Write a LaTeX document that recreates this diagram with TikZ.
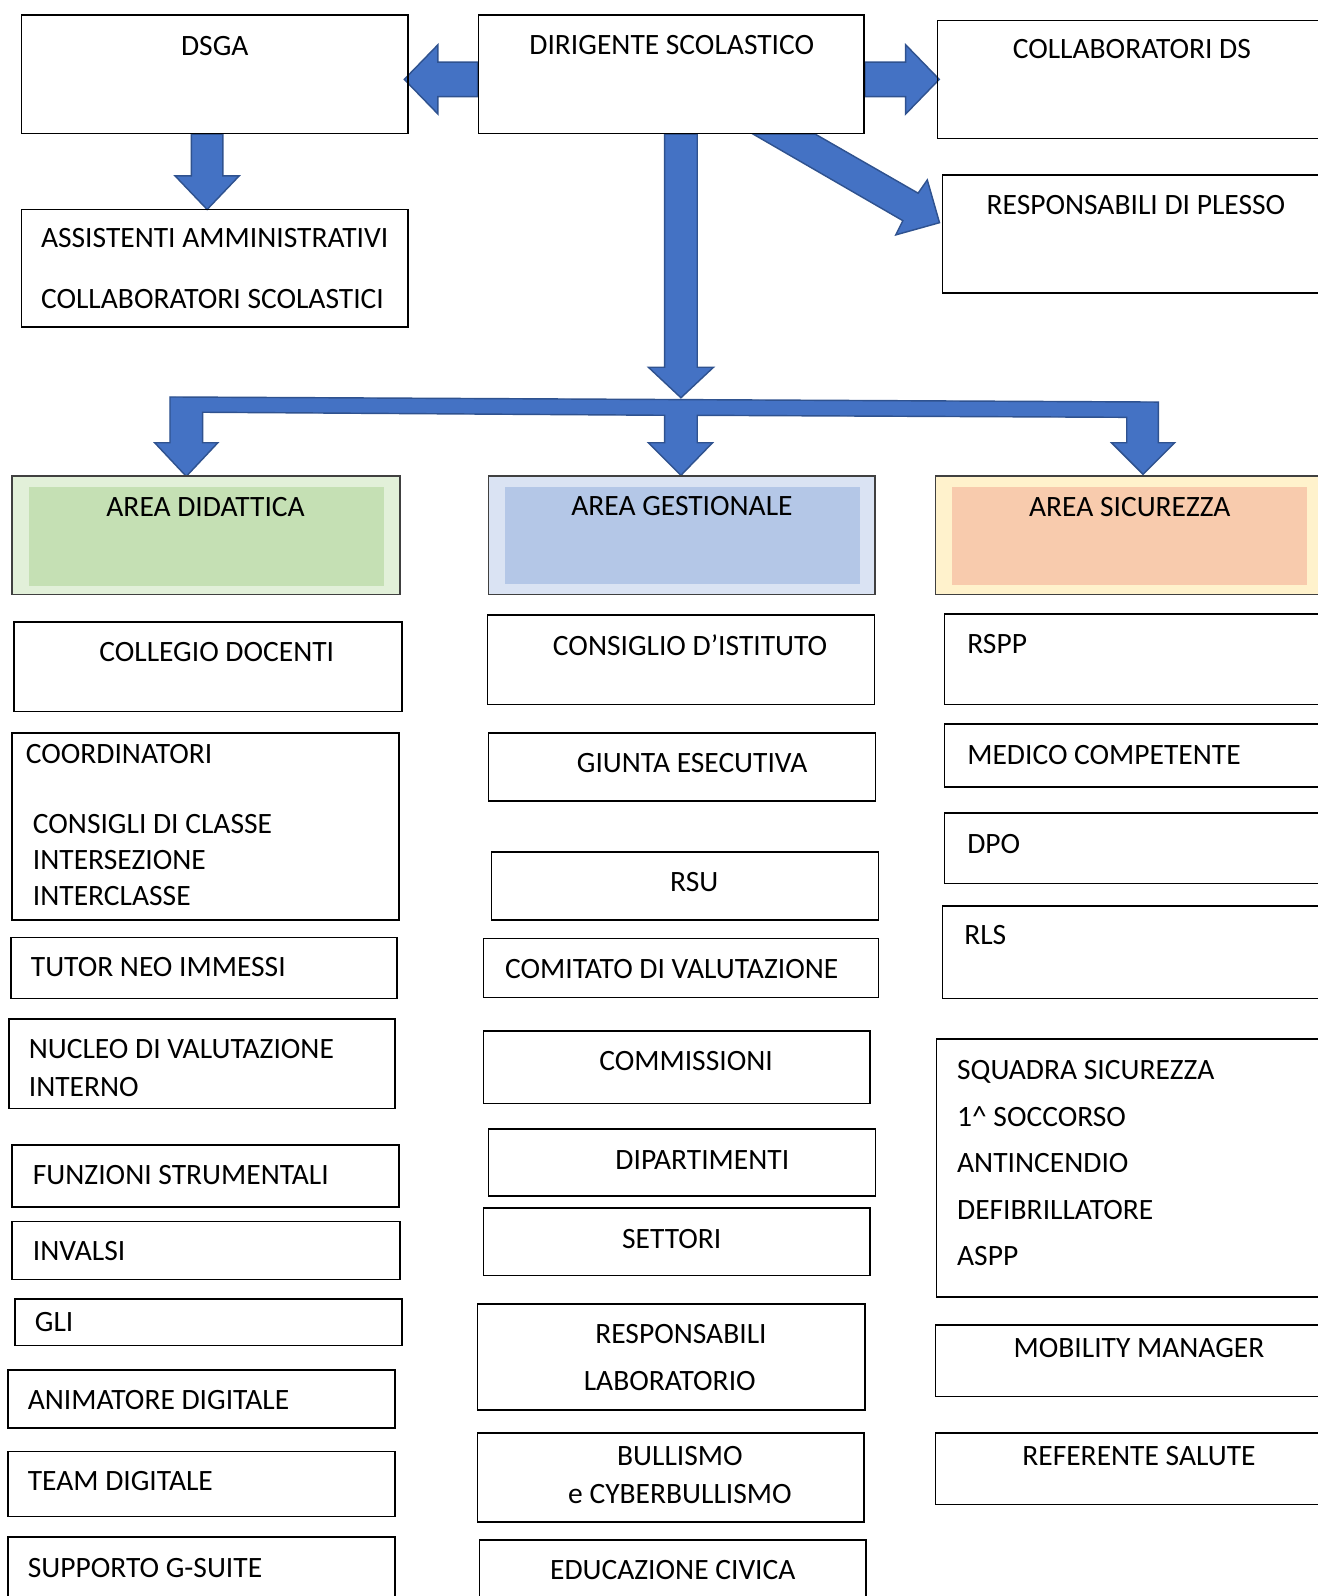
\documentclass[tikz,border=0pt]{standalone}
\usepackage{fontspec}
\setmainfont{Carlito}
\usetikzlibrary{fit,calc,backgrounds}

\definecolor{arrowblue}{HTML}{4472C4}
\definecolor{arrowedge}{HTML}{2F528F}
\definecolor{didout}{HTML}{E2F0D9}
\definecolor{didin}{HTML}{C5E0B4}
\definecolor{gesout}{HTML}{DAE3F3}
\definecolor{gesin}{HTML}{B4C7E7}
\definecolor{sicout}{HTML}{FFF2CC}
\definecolor{sicin}{HTML}{F8CBAD}

\newcommand\boxfont{\fontsize{16.5}{19}\selectfont}

\begin{document}
\begin{tikzpicture}[x=0.02cm, y=-0.02cm,
  box/.style={draw, line width=0.9pt, inner sep=0pt},
  area/.style={draw=black!75, line width=1pt, inner sep=0pt},
  tc/.style={anchor=base, inner sep=0pt, yshift=1.3pt, font=\boxfont},
  tl/.style={anchor=base west, inner sep=0pt, yshift=1.3pt, font=\boxfont},
  barrow/.style={fill=arrowblue, draw=arrowedge, line width=0.8pt, line join=miter}]

  \useasboundingbox (0,0) rectangle (1294,1568);

  % vertice
  \node[box, fit={(21,15) (401,131)}] (dsga) {};
  \node[box, fit={(470,15) (849,131)}] (ds) {};
  \node[box, fit={(921,20) (1310,136)}] (collab) {};
  \node[box, fit={(926,172) (1310,288)}] (plesso) {};
  \node[box, fit={(21,206) (401,321)}] (ata) {};
  \node[tc] (dsga-t) at (211,57) {DSGA};
  \node[tc] (ds-t) at (660,56) {DIRIGENTE SCOLASTICO};
  \node[tc] (collab-t) at (1112,60) {COLLABORATORI DS};
  \node[tc] (plesso-t) at (1116,213) {RESPONSABILI DI PLESSO};
  \node[tl] (ata-t1) at (40,245) {ASSISTENTI AMMINISTRATIVI};
  \node[tl] (ata-t2) at (40,305) {COLLABORATORI SCOLASTICI};

  % aree
  \node[area, fill=didout, fit={(12,468) (393,584)}] (did) {};
  \fill[didin] (28,478) rectangle (377,576);
  \node[tc] (did-t) at (202,510) {AREA DIDATTICA};
  \node[area, fill=gesout, fit={(480,468) (860,584)}] (ges) {};
  \fill[gesin] (496,478) rectangle (845,574);
  \node[tc] (ges-t) at (670,509) {AREA GESTIONALE};
  \node[area, fill=sicout, fit={(919,468) (1310,584)}] (sic) {};
  \fill[sicin] (935,478) rectangle (1284,575);
  \node[tc] (sic-t) at (1110,510) {AREA SICUREZZA};

  % area didattica
  \node[box, fit={(14,611) (395,699)}] (collegio) {};
  \node[tc] (collegio-t) at (213,652) {COLLEGIO DOCENTI};
  \node[box, fit={(12,720) (392,904)}] (coord) {};
  \node[tl] (coord-t1) at (25,752) {COORDINATORI};
  \node[tl] (coord-t2) at (32,821) {CONSIGLI DI CLASSE};
  \node[tl] (coord-t3) at (32,857) {INTERSEZIONE};
  \node[tl] (coord-t4) at (32,892) {INTERCLASSE};
  \node[box, fit={(11,921) (390,981)}] (tutor) {};
  \node[tl] (tutor-t) at (30,962) {TUTOR NEO IMMESSI};
  \node[box, fit={(9,1001) (388,1089)}] (nucleo) {};
  \node[tl] (nucleo-t1) at (28,1042) {NUCLEO DI VALUTAZIONE};
  \node[tl] (nucleo-t2) at (28,1080) {INTERNO};
  \node[box, fit={(12,1125) (392,1186)}] (fs) {};
  \node[tl] (fs-t) at (32,1166) {FUNZIONI STRUMENTALI};
  \node[box, fit={(12,1200) (393,1257)}] (invalsi) {};
  \node[tl] (invalsi-t) at (32,1241) {INVALSI};
  \node[box, fit={(15,1276) (395,1322)}] (gli) {};
  \node[tl] (gli-t) at (34,1310) {GLI};
  \node[box, fit={(8,1346) (388,1403)}] (anim) {};
  \node[tl] (anim-t) at (27,1387) {ANIMATORE DIGITALE};
  \node[box, fit={(8,1426) (388,1490)}] (team) {};
  \node[tl] (team-t) at (27,1467) {TEAM DIGITALE};
  \node[box, fit={(8,1510) (388,1580)}] (gsuite) {};
  \node[tl] (gsuite-t) at (27,1552) {SUPPORTO G-SUITE};

  % area gestionale
  \node[box, fit={(479,604) (859,692)}] (ci) {};
  \node[tc] (ci-t) at (678,646) {CONSIGLIO D’ISTITUTO};
  \node[box, fit={(480,720) (860,787)}] (giunta) {};
  \node[tc] (giunta-t) at (680,761) {GIUNTA ESECUTIVA};
  \node[box, fit={(483,837) (863,904)}] (rsu) {};
  \node[tc] (rsu-t) at (682,878) {RSU};
  \node[box, fit={(475,922) (863,980)}] (comitato) {};
  \node[tl] (comitato-t) at (496,964) {COMITATO DI VALUTAZIONE};
  \node[box, fit={(475,1013) (855,1084)}] (comm) {};
  \node[tc] (comm-t) at (674,1054) {COMMISSIONI};
  \node[box, fit={(480,1109) (860,1175)}] (dip) {};
  \node[tc] (dip-t) at (690,1151) {DIPARTIMENTI};
  \node[box, fit={(475,1187) (855,1253)}] (settori) {};
  \node[tc] (settori-t) at (660,1229) {SETTORI};
  \node[box, fit={(469,1281) (850,1385)}] (lab) {};
  \node[tc] (lab-t1) at (669,1322) {RESPONSABILI};
  \node[tc] (lab-t2) at (658,1368) {LABORATORIO};
  \node[box, fit={(469,1408) (849,1495)}] (bull) {};
  \node[tc] (bull-t1) at (668,1442) {BULLISMO};
  \node[tc] (bull-t2) at (668,1479) {e CYBERBULLISMO};
  \node[box, fit={(471,1513) (851,1580)}] (civica) {};
  \node[tc] (civica-t) at (661,1554) {EDUCAZIONE CIVICA};

  % area sicurezza
  \node[box, fit={(928,603) (1310,692)}] (rspp) {};
  \node[tl] (rspp-t) at (950,644) {RSPP};
  \node[box, fit={(928,711) (1310,773)}] (medico) {};
  \node[tl] (medico-t) at (950,753) {MEDICO COMPETENTE};
  \node[box, fit={(928,799) (1310,868)}] (dpo) {};
  \node[tl] (dpo-t) at (950,841) {DPO};
  \node[box, fit={(926,890) (1310,981)}] (rls) {};
  \node[tl] (rls-t) at (947,930) {RLS};
  \node[box, fit={(920,1021) (1310,1274)}] (squadra) {};
  \foreach \txt [count=\i] in {SQUADRA SICUREZZA, 1\textasciicircum{} SOCCORSO, ANTINCENDIO, DEFIBRILLATORE, ASPP}
    \node[tl] (squadra-t\i) at (940,{1063+45.7*(\i-1)}) {\txt};
  \node[box, fit={(919,1302) (1310,1372)}] (mobility) {};
  \node[tc] (mobility-t) at (1119,1336) {MOBILITY MANAGER};
  \node[box, fit={(919,1408) (1310,1478)}] (salute) {};
  \node[tc] (salute-t) at (1119,1442) {REFERENTE SALUTE};

  % frecce
  \begin{scope}[on background layer]
    \draw[barrow] ($(ds.west)+(0,-12)$) -- ++(-39,0) -- ++(0,-17) -- ++(-33,34)
      -- ++(33,34) -- ++(0,-17) -- ++(39,0) -- cycle;
    \draw[barrow] ($(ds.east)+(0,-12)$) -- ++(40,0) -- ++(0,-17) -- ++(33,34)
      -- ++(-33,34) -- ++(0,-17) -- ++(-40,0) -- cycle;
    \draw[barrow] ($(dsga.south)+(-23,0)$) -- ++(0,41) -- ++(-16,0) -- ++(31.5,33)
      -- ++(31.5,-33) -- ++(-16,0) -- ++(0,-41) -- cycle;
    \draw[barrow] ($(ds.south)+(-6.5,0)$) -- ++(0,229) -- ++(-16,0) -- ++(32,30)
      -- ++(32,-30) -- ++(-16,0) -- ++(0,-229) -- cycle;
    \draw[barrow] ($(ds.south)+(80.5,0)$) -- ++(147,85) -- ++(-7,14) -- ++(43,-12)
      -- ++(-12,-42) -- ++(-9,13) -- ++(-101,-58) -- cycle;
    \draw[barrow] (167,390) -- (1138,395) -- (1138,435) -- (1154,435) -- (1123,466)
      -- (1092,435) -- (1107,435) -- (1107,410) -- (685,408) -- (685,435) -- (700,435)
      -- (669,467) -- (637,435) -- (653,435) -- (653,408) -- (199,405) -- (199,435)
      -- (214,435) -- (183,468) -- (152,435) -- (167,435) -- cycle;
  \end{scope}
\end{tikzpicture}
\end{document}
